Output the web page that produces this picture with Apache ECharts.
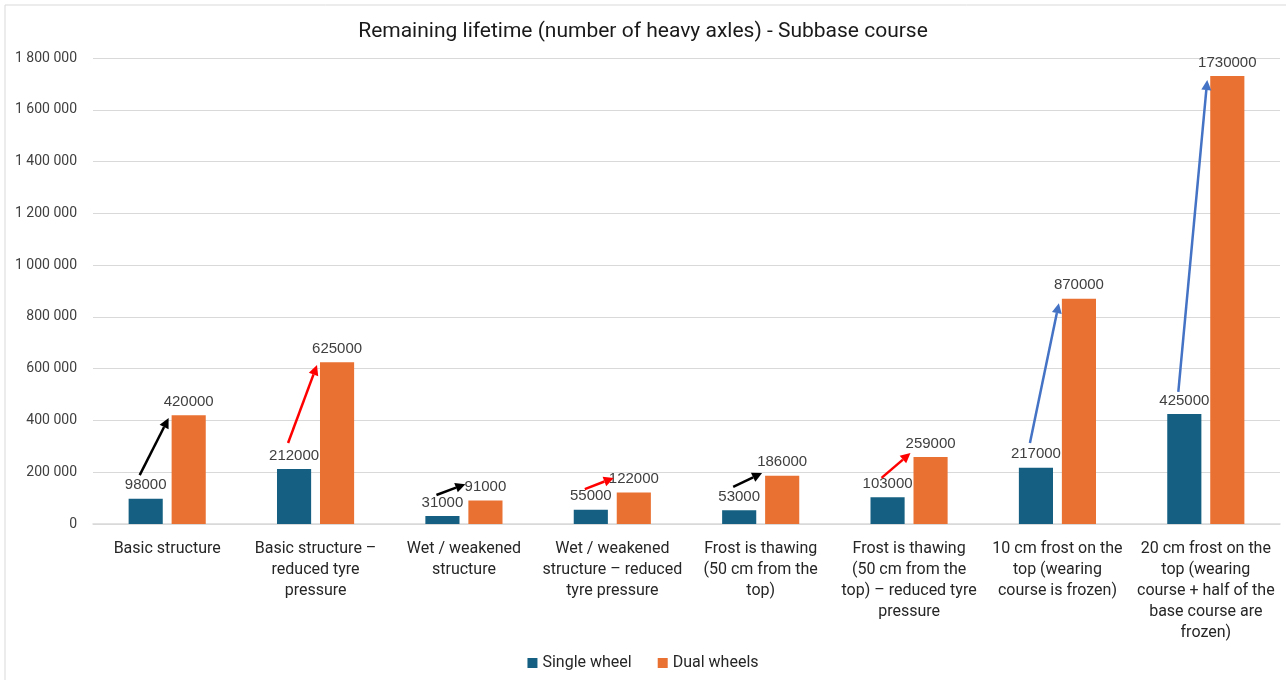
<!DOCTYPE html>
<html>
<head>
<meta charset="utf-8">
<script src="https://cdn.jsdelivr.net/npm/echarts@6/dist/echarts.min.js"></script>
<style>
  html, body { margin: 0; padding: 0; background: #fff; }
  #main { width: 1286px; height: 680px; }
</style>
</head>
<body>
<div id="main"></div>
<script>
// data
var categories = [
  'Basic structure',
  'Basic structure –\nreduced tyre\npressure',
  'Wet / weakened\nstructure',
  'Wet / weakened\nstructure – reduced\ntyre pressure',
  'Frost is thawing\n(50 cm from the\ntop)',
  'Frost is thawing\n(50 cm from the\ntop) – reduced tyre\npressure',
  '10 cm frost on the\ntop (wearing\ncourse is frozen)',
  '20 cm frost on the\ntop (wearing\ncourse + half of the\nbase course are\nfrozen)'
];
var singleWheel = [98000, 212000, 31000, 55000, 53000, 103000, 217000, 425000];
var dualWheels = [420000, 625000, 91000, 122000, 186000, 259000, 870000, 1730000];

// arrow annotations: start / end heights in axle units
var arrowFrom = [189000, 313000, 112000, 135000, 143000, 178000, 313000, 510000];
var arrowTo = [409000, 614000, 154000, 178000, 197000, 274000, 853000, 1715000];
var arrowKind = ['black', 'red', 'black', 'red', 'black', 'red', 'blue', 'blue'];

var arrowColors = { black: '#000000', red: '#ff0000', blue: '#4472c4' };
var BAR_RATIO = 0.23, GAP_RATIO = 0.26;

function fmt(v) {
  return String(v).replace(/\B(?=(\d{3})+(?!\d))/g, ' ');
}

var arrowData = categories.map(function (c, i) {
  return [i, arrowFrom[i], arrowTo[i], i];
});

var myChart = echarts.init(document.getElementById('main'));
var option = {
  backgroundColor: '#ffffff',
  animation: false,
  title: {
    text: 'Remaining lifetime (number of heavy axles) - Subbase course',
    left: 'center',
    top: 16,
    textStyle: { fontFamily: 'Roboto', fontSize: 21, fontWeight: 'normal', color: '#1a1a1a' }
  },
  legend: {
    data: ['Single wheel', 'Dual wheels'],
    bottom: 4,
    left: 'center',
    itemWidth: 10,
    itemHeight: 10,
    itemGap: 26,
    icon: 'rect',
    textStyle: { fontFamily: 'Roboto', fontSize: 16, color: '#262626' }
  },
  grid: { left: 93, right: 6, top: 58, bottom: 156, containLabel: false },
  xAxis: {
    type: 'category',
    data: categories,
    axisTick: { show: false },
    axisLine: { lineStyle: { color: '#d9d9d9', width: 1.5 } },
    axisLabel: {
      interval: 0,
      margin: 14,
      lineHeight: 21,
      fontFamily: 'Roboto',
      fontSize: 16,
      color: '#262626'
    }
  },
  yAxis: {
    type: 'value',
    min: 0,
    max: 1800000,
    interval: 200000,
    axisLine: { show: false },
    axisTick: { show: false },
    splitLine: { lineStyle: { color: '#d9d9d9', width: 1.2 } },
    axisLabel: {
      margin: 16,
      formatter: fmt,
      fontFamily: 'Roboto',
      fontSize: 14,
      color: '#404040'
    }
  },
  graphic: [{
    type: 'rect',
    silent: true,
    shape: { x: 5, y: 5, width: 1300, height: 700 },
    style: { fill: 'none', stroke: '#d9d9d9', lineWidth: 1 }
  }],
  series: [
    {
      name: 'Single wheel',
      type: 'bar',
      data: singleWheel,
      barWidth: (BAR_RATIO * 100) + '%',
      barGap: (GAP_RATIO * 100) + '%',
      itemStyle: { color: '#156082' },
      label: {
        show: true, position: 'top', distance: 6,
        fontFamily: 'Liberation Sans', fontSize: 15, color: '#404040'
      }
    },
    {
      name: 'Dual wheels',
      type: 'bar',
      data: dualWheels,
      barWidth: (BAR_RATIO * 100) + '%',
      barGap: (GAP_RATIO * 100) + '%',
      itemStyle: { color: '#e97132' },
      label: {
        show: true, position: 'top', distance: 6,
        fontFamily: 'Liberation Sans', fontSize: 15, color: '#404040'
      }
    },
    {
      name: 'arrows',
      type: 'custom',
      silent: true,
      z: 10,
      data: arrowData,
      renderItem: function (params, api) {
        var cat = api.value(0);
        var idx = api.value(3);
        var color = arrowColors[arrowKind[idx]];
        var p0 = api.coord([cat, api.value(1)]);
        var p1 = api.coord([cat, api.value(2)]);
        var band = api.size([1, 0])[0];
        var bw = band * BAR_RATIO, gap = bw * GAP_RATIO;
        var x0 = p0[0] - (bw + gap) / 2 - 6, y0 = p0[1];
        var x1 = p1[0] + gap / 2 - 3, y1 = p1[1];
        var dx = x1 - x0, dy = y1 - y0;
        var len = Math.sqrt(dx * dx + dy * dy);
        var ux = dx / len, uy = dy / len;
        var headL = 10, headW = 5;
        var bx = x1 - ux * headL, by = y1 - uy * headL;
        return {
          type: 'group',
          children: [
            {
              type: 'line',
              shape: { x1: x0, y1: y0, x2: bx, y2: by },
              style: { stroke: color, lineWidth: 2.5 }
            },
            {
              type: 'polygon',
              shape: { points: [[x1, y1], [bx - uy * headW, by + ux * headW], [bx + uy * headW, by - ux * headW]] },
              style: { fill: color }
            }
          ]
        };
      }
    }
  ]
};
myChart.setOption(option);
</script>
</body>
</html>
